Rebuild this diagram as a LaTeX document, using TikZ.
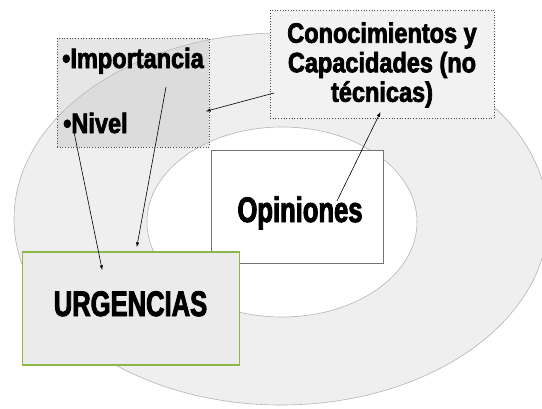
\documentclass[tikz,border=0pt]{standalone}
\usepackage{fontspec}
\setmainfont{Liberation Sans}
\newfontfamily\lblfont{Liberation Sans Bold}[FakeStretch=0.84, FakeBold=2.5]
\newfontfamily\bigfont{Liberation Sans Bold}[FakeStretch=0.72, FakeBold=2.5]
\usepackage{tikz}
\usetikzlibrary{arrows, positioning}

\definecolor{ringgray}{HTML}{EFEFEF}
\definecolor{ringline}{HTML}{B4B4B4}
\definecolor{urggreen}{HTML}{8CB84A}

\begin{document}
\begin{tikzpicture}[x=1pt, y=-1pt, >=latex,
    ring/.style={draw=ringline, line width=0.6pt},
    note/.style={draw=black!70, dotted, line width=0.7pt, rectangle, inner sep=0pt},
    small/.style={inner sep=0pt, text=black, font=\lblfont\fontsize{28}{29.5}\selectfont},
    big/.style={inner sep=0pt, text=black, font=\bigfont\fontsize{35.5}{35.5}\selectfont},
    link/.style={->, line width=0.6pt, black, shorten >=-1pt}]
  \useasboundingbox (0,0) rectangle (542,408);
  \fill[white] (0,0) rectangle (542,408);

  % rings
  \draw[ring, fill=ringgray] (281,219) ellipse [x radius=267pt, y radius=186pt];
  \draw[ring, fill=white] (282,222) ellipse [x radius=135pt, y radius=95pt];

  % boxes
  \node [note, fill=black!25, fill opacity=0.38, minimum width=152pt, minimum height=109pt] (impbox) at (133,92.5) {};
  \node [note, fill=black!5, minimum width=224pt, minimum height=108pt] (conbox) at (382,64) {};
  \node [draw=black!55, fill=white, line width=0.7pt, minimum width=172pt, minimum height=113pt] (opibox) at (297,206.5) {};
  \node [draw=urggreen, fill=black!8, line width=1.3pt, minimum width=217pt, minimum height=113pt] (urgbox) at (131,308.5) {};

  % texts
  \node [small, anchor=base west] (imp) at (62,68) {•Importancia};
  \node [small, anchor=base west] (niv) at (63,133) {•Nivel};
  \node [small, align=center] (con) at (382,65) {Conocimientos y\\Capacidades (no\\técnicas)};
  \node [big, anchor=base] (opi) at (300,222) {Opiniones};
  \node [big, anchor=base] (urg) at (130.5,316) {URGENCIAS};

  % connector ends
  \coordinate (conw) at (274,93);
  \coordinate (conb) at (380,113);
  \coordinate (impe) at (207,111);
  \coordinate (imps) at (166,87);
  \coordinate (nivs) at (74,132);
  \coordinate (urgt) at (137,246);
  \coordinate (urgi) at (102,269);
  \coordinate (opit) at (337,201);

  \draw [link] (conw) -- (impe);
  \draw [link] (imps) -- (urgt);
  \draw [link] (nivs) -- (urgi);
  \draw [link] (opit) -- (conb);
\end{tikzpicture}
\end{document}
